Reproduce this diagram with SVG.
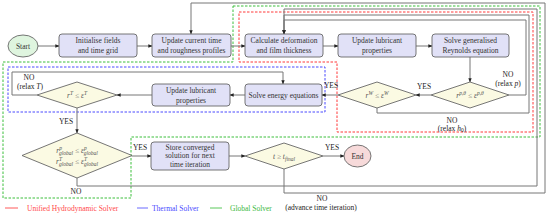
<svg xmlns="http://www.w3.org/2000/svg" width="550" height="216" viewBox="0 0 550 216">
<defs>
<marker id="arr" viewBox="0 0 6 6" refX="5.5" refY="3" markerWidth="4" markerHeight="4" orient="auto" markerUnits="userSpaceOnUse">
<path d="M0,0.5 L6,3 L0,5.5 z" fill="#222"/>
</marker>
<style>
.box{fill:#e1e1f7;stroke:#666;stroke-width:0.9}
.dia{fill:#fbfae3;stroke:#666;stroke-width:0.9}
.t{font-family:"Liberation Serif","DejaVu Serif",serif;font-size:7.5px;fill:#333;text-anchor:middle}
.m{font-family:"Liberation Serif","DejaVu Serif",serif;font-size:7.5px;fill:#555;text-anchor:middle;font-style:italic}
.lb{font-family:"Liberation Serif","DejaVu Serif",serif;font-size:7.5px;fill:#222;text-anchor:middle}
.e{fill:none;stroke:#777;stroke-width:1;marker-end:url(#arr)}
.ln{fill:none;stroke:#777;stroke-width:1}
.rd{fill:none;stroke:#ff3b3b;stroke-width:1;stroke-dasharray:2.5,1.5}
.bd{fill:none;stroke:#4a4aff;stroke-width:1;stroke-dasharray:2.5,1.5}
.gd{fill:none;stroke:#3cbf3c;stroke-width:1;stroke-dasharray:2.5,1.5}
.sub{font-size:5.5px}
</style>
</defs>
<rect width="550" height="216" fill="#fff"/>

<g id="regions">
<polygon class="gd" points="233,6 540,6 540,137 131,137 131,198 3,198 3,62 233,62"/>
<polygon class="rd" points="239,12 533,12 533,132 337,132 337,62 239,62"/>
<rect class="bd" x="8" y="67" width="317" height="45"/>
</g>

<g id="connectors">
<path class="e" d="M38,46 L59,46"/>
<path class="e" d="M137,46 L152,46"/>
<path class="e" d="M231,46 L245,46"/>
<path class="e" d="M323,46 L338,46"/>
<path class="e" d="M416,46 L432,46"/>
<path class="e" d="M470,57 L470,82"/>
<path class="e" d="M431,95 L416,95"/>
<path class="e" d="M509,95 L526,95 L526,20 L284,20 L284,34"/>
<path class="e" d="M377,108 L377,113 L529,113 L529,15 L284,15 L284,34"/>
<path class="e" d="M338,95 L322,95"/>
<path class="e" d="M245,95 L230,95"/>
<path class="e" d="M152,95 L117,95"/>
<path class="e" d="M37,95 L12,95 L12,72 L283,72 L283,84"/>
<path class="e" d="M77,108 L77,133"/>
<path class="e" d="M132,156 L151,156"/>
<path class="e" d="M77,178 L77,186 L537,186 L537,9 L284,9 L284,34"/>
<path class="e" d="M229,156 L245,156"/>
<path class="e" d="M323,156 L344,156"/>
<path class="e" d="M284,169 L284,193 L545,193 L545,3 L191,3 L191,34"/>
</g>

<g id="start">
<ellipse cx="23" cy="46" rx="15" ry="11" fill="#dff5df" stroke="#666" stroke-width="0.9"/>
<text class="t" x="23" y="48.5">Start</text>
</g>
<g id="init">
<rect class="box" x="59" y="34" width="78" height="23" rx="3"/>
<text class="t" x="98" y="43">Initialise fields</text>
<text class="t" x="98" y="52.5">and time grid</text>
</g>
<g id="updtime">
<rect class="box" x="152" y="34" width="79" height="23" rx="3"/>
<text class="t" x="191.5" y="43">Update current time</text>
<text class="t" x="191.5" y="52.5">and roughness profiles</text>
</g>
<g id="deform">
<rect class="box" x="245" y="34" width="78" height="23" rx="3"/>
<text class="t" x="284" y="43">Calculate deformation</text>
<text class="t" x="284" y="52.5">and film thickness</text>
</g>
<g id="updlub1">
<rect class="box" x="338" y="34" width="78" height="23" rx="3"/>
<text class="t" x="377" y="43">Update lubricant</text>
<text class="t" x="377" y="52.5">properties</text>
</g>
<g id="reynolds">
<rect class="box" x="432" y="34" width="77" height="23" rx="3"/>
<text class="t" x="470.5" y="43">Solve generalised</text>
<text class="t" x="470.5" y="52.5">Reynolds equation</text>
</g>
<g id="d1">
<polygon class="dia" points="470,82 509,95 470,108 431,95"/>
<text class="m" x="470" y="98">r<tspan class="sub" dy="-3">p,θ</tspan><tspan dy="3"> ≤ ε</tspan><tspan class="sub" dy="-3">p,θ</tspan></text>
</g>
<g id="d2">
<polygon class="dia" points="377,82 416,95 377,108 338,95"/>
<text class="m" x="377" y="98">r<tspan class="sub" dy="-3">W</tspan><tspan dy="3"> ≤ ε</tspan><tspan class="sub" dy="-3">W</tspan></text>
</g>
<g id="energy">
<rect class="box" x="245" y="84" width="77" height="22" rx="3"/>
<text class="t" x="283.5" y="97.5">Solve energy equations</text>
</g>
<g id="updlub2">
<rect class="box" x="152" y="84" width="78" height="22" rx="3"/>
<text class="t" x="191" y="93">Update lubricant</text>
<text class="t" x="191" y="102.5">properties</text>
</g>
<g id="d3">
<polygon class="dia" points="77,82 117,95 77,108 37,95"/>
<text class="m" x="77" y="98">r<tspan class="sub" dy="-3">T</tspan><tspan dy="3"> ≤ ε</tspan><tspan class="sub" dy="-3">T</tspan></text>
</g>
<g id="d4">
<polygon class="dia" points="77,133 132,155.5 77,178 22,155.5"/>
<text class="m" x="77" y="153">r<tspan class="sub" dy="-3">p</tspan><tspan class="sub" dx="-3" dy="5">global</tspan><tspan dy="-2"> ≤ ε</tspan><tspan class="sub" dy="-3">p</tspan><tspan class="sub" dx="-3" dy="5">global</tspan></text>
<text class="m" x="77" y="163.5">r<tspan class="sub" dy="-3">T</tspan><tspan class="sub" dx="-3" dy="5">global</tspan><tspan dy="-2"> ≤ ε</tspan><tspan class="sub" dy="-3">T</tspan><tspan class="sub" dx="-3" dy="5">global</tspan></text>
</g>
<g id="store">
<rect class="box" x="151" y="142" width="78" height="28" rx="3"/>
<text class="t" x="190" y="149.5">Store converged</text>
<text class="t" x="190" y="158">solution for next</text>
<text class="t" x="190" y="166.5">time iteration</text>
</g>
<g id="d5">
<polygon class="dia" points="284,143 323,156 284,169 245,156"/>
<text class="m" x="284" y="158.5">t ≥ t<tspan class="sub" dy="2">final</tspan></text>
</g>
<g id="end">
<ellipse cx="357.5" cy="156" rx="13.5" ry="11" fill="#f7dada" stroke="#666" stroke-width="0.9"/>
<text class="t" x="357.5" y="158.5">End</text>
</g>

<g id="labels">
<text class="lb" x="29" y="80">NO</text>
<text class="lb" x="30" y="88.5">(relax <tspan font-style="italic">T</tspan>)</text>
<text class="lb" x="66" y="124">YES</text>
<text class="lb" x="331" y="88">YES</text>
<text class="lb" x="424" y="88.5">YES</text>
<text class="lb" x="508" y="77">NO</text>
<text class="lb" x="508" y="86">(relax <tspan font-style="italic">p</tspan>)</text>
<text class="lb" x="452" y="122.5">NO</text>
<text class="lb" x="452" y="130.5">(relax <tspan font-style="italic">h</tspan><tspan class="sub" dy="1.5">0</tspan><tspan dy="-1.5">)</tspan></text>
<text class="lb" x="140" y="150">YES</text>
<text class="lb" x="76" y="194">NO</text>
<text class="lb" x="332" y="150">YES</text>
<text class="lb" x="322" y="201">NO</text>
<text class="lb" x="321" y="210">(advance time iteration)</text>
</g>

<g id="legend">
<line x1="5" y1="208" x2="18" y2="208" stroke="#ff5a5a" stroke-width="1"/>
<text x="27" y="210.5" font-family="Liberation Serif, DejaVu Serif, serif" font-size="7.5" fill="#ff4a4a">Unified Hydrodynamic Solver</text>
<line x1="137" y1="208" x2="148" y2="208" stroke="#6a6aff" stroke-width="1"/>
<text x="152" y="210.5" font-family="Liberation Serif, DejaVu Serif, serif" font-size="7.5" fill="#4a4aff">Thermal Solver</text>
<line x1="210" y1="208" x2="222" y2="208" stroke="#5ac85a" stroke-width="1"/>
<text x="230" y="210.5" font-family="Liberation Serif, DejaVu Serif, serif" font-size="7.5" fill="#3cb83c">Global Solver</text>
</g>
</svg>
